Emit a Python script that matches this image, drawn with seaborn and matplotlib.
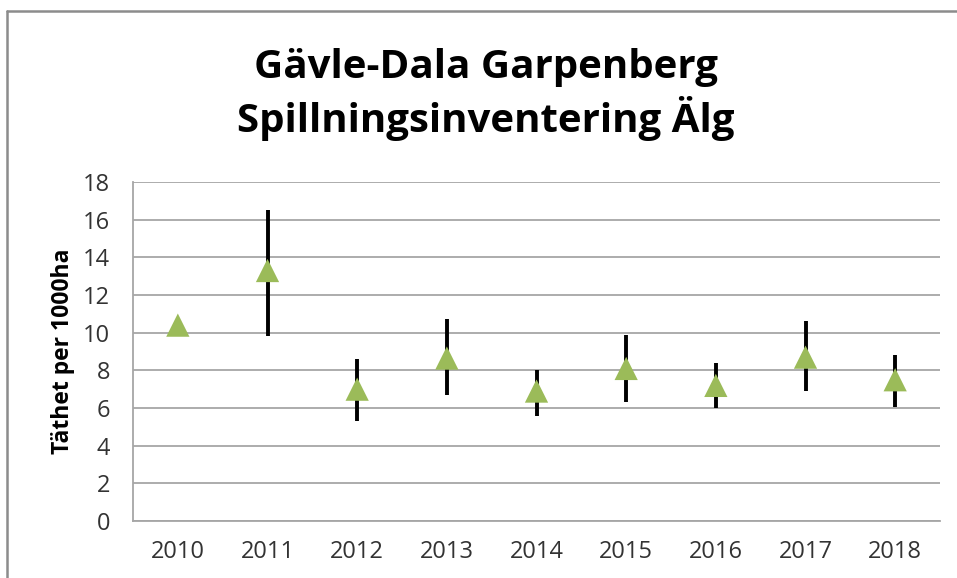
import numpy as np
import pandas as pd
import matplotlib
matplotlib.use("Agg")
import matplotlib.pyplot as plt
from matplotlib.lines import Line2D
import seaborn as sns

# ============================================================================
# DATA
# ============================================================================
years = ['2010', '2011', '2012', '2013', '2014', '2015', '2016', '2017', '2018']
density = [10.4, 13.3, 7.0, 8.65, 6.9, 8.1, 7.2, 8.7, 7.5]
lower = [np.nan, 9.8, 5.3, 6.7, 5.6, 6.3, 6.0, 6.9, 6.05]
upper = [np.nan, 16.5, 8.6, 10.7, 8.0, 9.9, 8.4, 10.6, 8.8]
y_ticks = list(range(0, 19, 2))

title_lines = ['Gävle-Dala Garpenberg', 'Spillningsinventering Älg']
y_label = 'Täthet per 1000ha'

GREEN = '#9BBB59'
GRID = '#A6A6A6'


def build_frame():
    df = pd.DataFrame({'year': years, 'density': density,
                       'lower': lower, 'upper': upper})
    df['pos'] = np.arange(len(df))
    return df


def draw(df):
    sns.set_style("white")
    plt.rcParams['font.family'] = ['Open Sans', 'DejaVu Sans']

    W, H = 957, 578
    fig = plt.figure(figsize=(W / 100, H / 100), dpi=100)
    ax = fig.add_axes([133 / W, 1 - 521 / H, 807 / W, 339 / H])

    # grid + axes
    ax.set_ylim(0, 18)
    ax.set_xlim(-0.5, len(df) - 0.5)
    ax.set_yticks(y_ticks)
    ax.yaxis.grid(True, color=GRID, linewidth=1.3)
    ax.set_axisbelow(True)
    for side in ['top', 'right']:
        ax.spines[side].set_visible(False)
    for side in ['left', 'bottom']:
        ax.spines[side].set_color(GRID)
        ax.spines[side].set_linewidth(1.3)

    # error bars behind the markers
    ax.vlines(df['pos'], df['lower'], df['upper'], color='black',
              linewidth=2.8, zorder=2)
    sns.scatterplot(data=df, x='pos', y='density', marker='^', s=280,
                    color=GREEN, edgecolor='none', linewidth=0,
                    zorder=3, ax=ax, legend=False)

    ax.set_xticks(df['pos'])
    ax.set_xticklabels(df['year'])
    ax.set_xticks(np.arange(-0.5, len(df)), minor=True)
    ax.tick_params(axis='x', which='major', length=0, pad=14,
                   labelsize=17, labelcolor='#333333')
    ax.tick_params(axis='x', which='minor', length=6.5, width=1.3,
                   color=GRID, direction='out')
    ax.tick_params(axis='y', length=6.5, width=1.3, color=GRID,
                   direction='out', pad=10, labelsize=17,
                   labelcolor='#333333')
    ax.set_xlabel('')
    ax.set_ylabel(y_label, fontsize=16.5, fontweight='bold', color='black',
                  labelpad=6)

    # titles
    fig.text(486 / W, 1 - 78 / H, title_lines[0], ha='center',
             va='baseline', fontsize=29, fontweight='bold', color='black')
    fig.text(486 / W, 1 - 132 / H, title_lines[1], ha='center',
             va='baseline', fontsize=29, fontweight='bold', color='black')

    # chart area border (cropped at right and bottom)
    fig.add_artist(Line2D([7 / W, 1], [1 - 11 / H, 1 - 11 / H],
                          transform=fig.transFigure, color='#8C8C8C',
                          linewidth=1.8))
    fig.add_artist(Line2D([7 / W, 7 / W], [0, 1 - 11 / H],
                          transform=fig.transFigure, color='#8C8C8C',
                          linewidth=1.8))

    fig.savefig('out.png', dpi=100)


if __name__ == "__main__":
    draw(build_frame())
